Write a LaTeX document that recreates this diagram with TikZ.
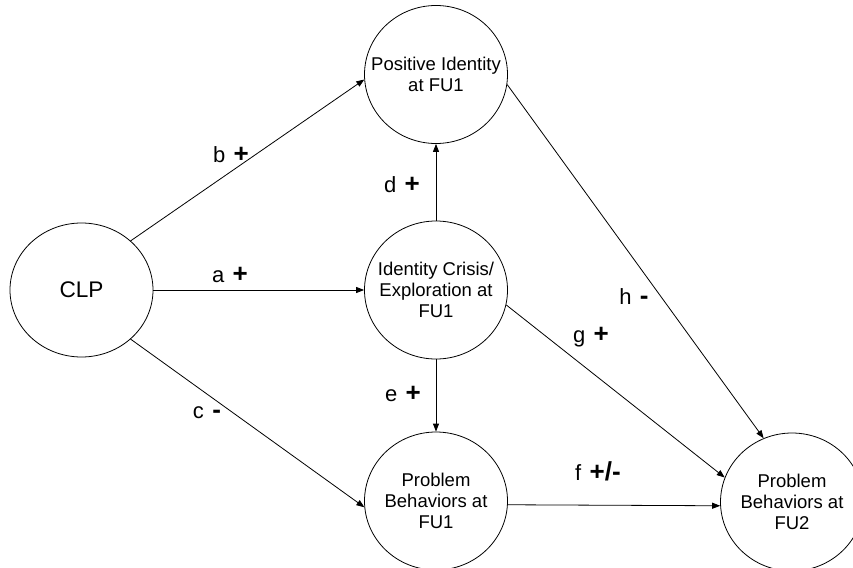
\documentclass[tikz,border=0pt]{standalone}
\usepackage{fontspec}
\setmainfont{Liberation Sans}
\usetikzlibrary{shapes.geometric,arrows.meta}

% letter followed by a larger bold sign
\newcommand\edgesign[2]{#1\hspace{0.38em}{\fontsize{26}{26}\selectfont\bfseries #2}}

\begin{document}
\begin{tikzpicture}[x=1pt,y=-1pt,
  state/.style={ellipse, draw, line width=0.8pt, minimum width=143pt,
    minimum height=138pt, inner sep=0pt},
  statetext/.style={align=center, inner sep=0pt,
    font=\fontsize{18.5}{21}\selectfont},
  link/.style={-{Triangle[length=8pt,width=6pt]}, line width=0.8pt},
  sign/.style={anchor=base, inner sep=0pt, font=\fontsize{22}{24}\selectfont}]
\useasboundingbox (0,0) rectangle (853,567);

% variables
\node[state, minimum width=143pt, minimum height=134pt,
  label={[statetext, font=\fontsize{22.6}{26}\selectfont]center:CLP}] (clp) at (81.5,290) {};
\node[state, label={[statetext]center:Positive Identity\\at FU1}] (pi) at (436,74.5) {};
\node[state, label={[statetext]center:Identity Crisis/\\Exploration at\\FU1}] (ic) at (436,290) {};
\node[state, label={[statetext]center:Problem\\Behaviors at\\FU1}] (pb1) at (436,501) {};
\node[state, label={[statetext]center:Problem\\Behaviors at\\FU2}] (pb2) at (792,502) {};

% paths
\draw[link] (clp.45) -- (pi.184);
\draw[link] (clp.east) -- (ic.west);
\draw[link] (clp.-45) -- (pb1.185);
\draw[link] (ic.north) -- (pi.south);
\draw[link] (ic.south) -- (pb1.north);
\draw[link] (ic.-12) -- (pb2.160);
\draw[link] (pi.-8) -- (pb2.114);
\draw[link] (pb1.-3) -- (pb2.183);

% path labels
\node[sign] (lb) at (231,162) {\edgesign{b}{+}};
\node[sign] (la) at (230,282) {\edgesign{a}{+}};
\node[sign] (lc) at (207,418) {\edgesign{c}{-}};
\node[sign] (ld) at (402,192) {\edgesign{d}{+}};
\node[sign] (le) at (403,401) {\edgesign{e}{+}};
\node[sign] (lf) at (598,480) {\edgesign{f}{+/-}};
\node[sign] (lg) at (591,342) {\edgesign{g}{+}};
\node[sign] (lh) at (634,304) {\edgesign{h}{-}};
\end{tikzpicture}
\end{document}
